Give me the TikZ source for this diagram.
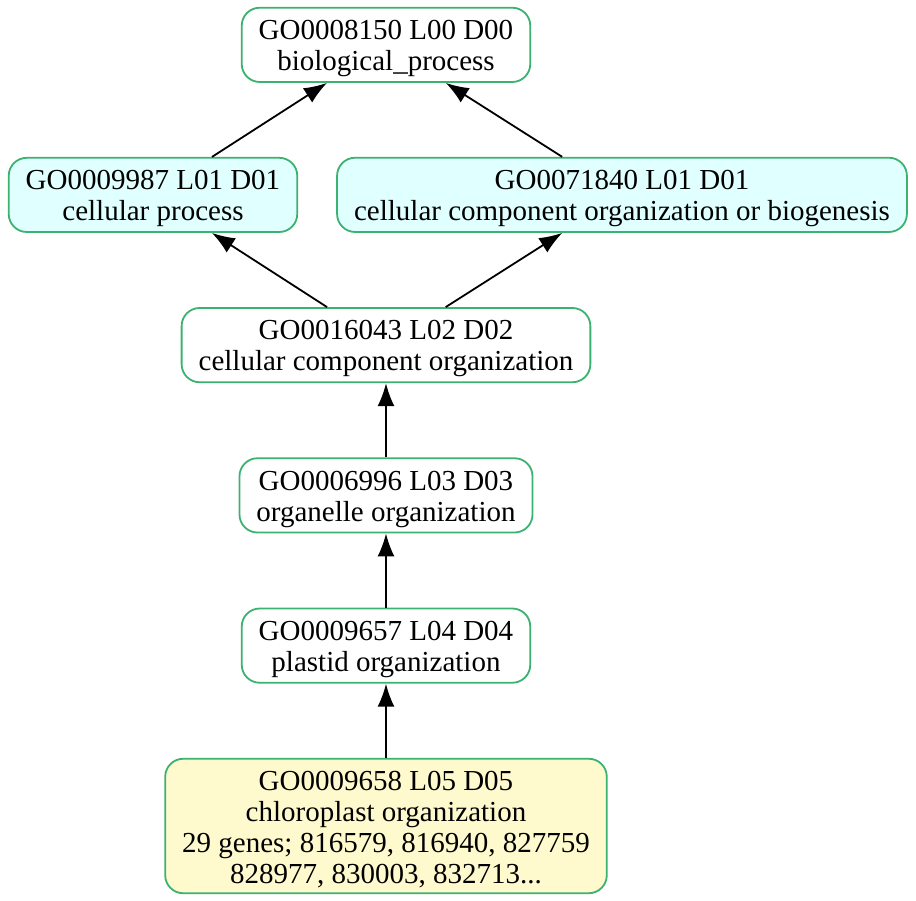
\documentclass[tikz,border=0pt]{standalone}
\usepackage[svgnames]{xcolor}
\usepackage{fontspec}
\setmainfont{Liberation Serif}
\usepackage{tikz}
\usetikzlibrary{positioning,arrows.meta}
\newcommand{\gostrut}{\rule{0pt}{13.3pt}}

\begin{document}
\begin{tikzpicture} [ node distance=37.1pt,>={Latex[length=11.5pt,width=8.5pt]},
    every node/.style={rectangle, rounded corners=9pt, draw=MediumSeaGreen,
    line width=0.9pt, fill=white, align=center, minimum height=37pt,
    inner xsep=8.5pt, inner ysep=2.6pt,
    font=\fontsize{14.5}{15.5}\selectfont},
    lvlone/.style={fill=LightCyan},
    leaf/.style={fill=LemonChiffon},
    con/.style={->, line width=0.9pt}
    ]
    \useasboundingbox (-193pt,-37pt) rectangle (265pt,413pt);
    \node (n7) [leaf] at (0,0) {\gostrut GO0009658 L05 D05\\ chloroplast organization\\
                   29 genes; 816579, 816940, 827759\\ 828977, 830003, 832713...};
    \node (n6) [above=of n7] {\gostrut GO0009657 L04 D04\\ plastid organization};
    \node (n5) [above=of n6] {\gostrut GO0006996 L03 D03\\ organelle organization};
    \node (n4) [above=of n5] {\gostrut GO0016043 L02 D02\\ cellular component organization};
    \node (n2) [lvlone, above=of n4, xshift=-116.5pt]
     {\gostrut GO0009987 L01 D01\\ cellular process};
    \node (n3) [lvlone, above=of n4, xshift=118pt]
     {\gostrut GO0071840 L01 D01\\ cellular component organization or biogenesis};
    \node (n1) [above=112.1pt of n4] {\gostrut GO0008150 L00 D00\\ biological\_process};

     \draw   [con]  (n7) -- (n6);
     \draw   [con]  (n6) -- (n5);
     \draw   [con]  (n5) -- (n4);
     \draw   [con]  (n4) -- (n2);
     \draw   [con]  (n4) -- (n3);
     \draw   [con]  (n2) -- (n1);
     \draw   [con]  (n3) -- (n1);
  \end{tikzpicture}
\end{document}
